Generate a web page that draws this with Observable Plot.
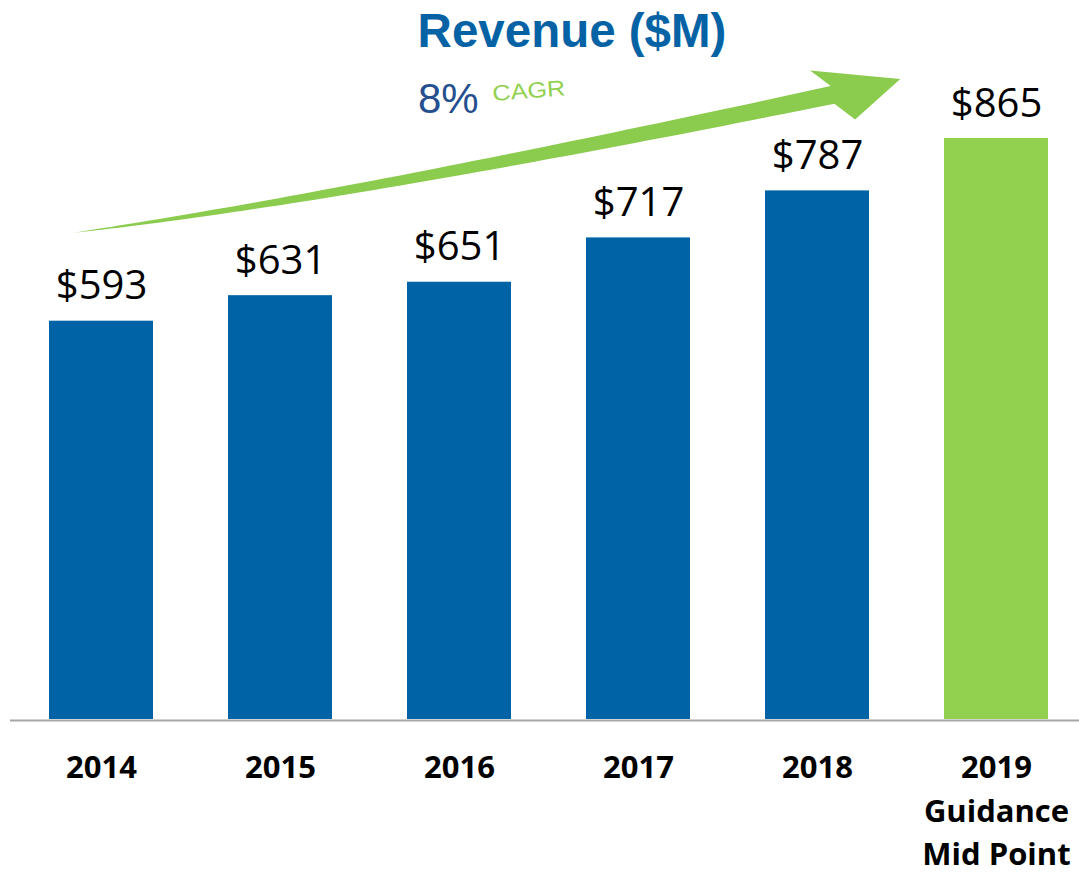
<!DOCTYPE html>
<html><head><meta charset="utf-8">
<script src="https://cdn.jsdelivr.net/npm/d3@7"></script>
<script src="https://cdn.jsdelivr.net/npm/@observablehq/plot@0.6"></script>
<style>
body{margin:0;background:#fff}
#chart{position:relative;width:1079px;height:874px;overflow:hidden}
</style>
</head><body><div id="chart"></div>
<script>
// ---- data ----
const years = ["2014", "2015", "2016", "2017", "2018", "2019"];
const revenue = [593, 631, 651, 717, 787, 865];
const kinds = ["actual", "actual", "actual", "actual", "actual", "guidance"];
const valueLabels = ["$593", "$631", "$651", "$717", "$787", "$865"];
const tickLabels = ["2014", "2015", "2016", "2017", "2018", "2019\nGuidance\nMid Point"];
const titleText = "Revenue ($M)";
const cagrValue = "8%";
const cagrText = "CAGR";
// arrow anchors (category, fraction of band offset, value on revenue axis)
const arrowTail = {year: "2014", offset: 0.24, value: 724};
const arrowTip = {year: "2019", offset: -0.42, value: 953};

const data = years.map((year, i) => ({year, revenue: revenue[i], kind: kinds[i], label: valueLabels[i]}));
const tickMap = new Map(years.map((y, i) => [y, tickLabels[i]]));

const chart = Plot.plot({
  width: 1079,
  height: 874,
  marginTop: 138,
  marginBottom: 155,
  marginLeft: 10,
  marginRight: 0,
  style: {fontFamily: "'Open Sans', sans-serif", background: "#fff", color: "#000", overflow: "visible"},
  x: {domain: years, paddingInner: 0.42, paddingOuter: 0.19, align: 0.56, label: null},
  y: {domain: [0, 865], axis: null},
  color: {domain: ["actual", "guidance"], range: ["#0063A6", "#92D050"]},
  marks: [
    Plot.ruleY([0], {stroke: "#A6A6A6", strokeWidth: 2, dy: 1}),
    Plot.barY(data, {x: "year", y: "revenue", fill: "kind"}),
    Plot.text(data, {x: "year", y: "revenue", text: "label", dy: -22, lineAnchor: "bottom", fontSize: 40, fill: "#000"}),
    Plot.axisX({tickSize: 0, tickPadding: 28, tickFormat: d => tickMap.get(d), fontSize: 31, fontWeight: "bold", lineHeight: 1.4, label: null, fill: "#000"})
  ]
});
document.getElementById("chart").appendChild(chart);

// ---- arrow and headings drawn with the chart's scales ----
const xs = chart.scale("x"), ys = chart.scale("y");
const bw = xs.bandwidth;
const T = [xs.apply(arrowTail.year) + arrowTail.offset * bw, ys.apply(arrowTail.value)];
const H = [xs.apply(arrowTip.year) + arrowTip.offset * bw, ys.apply(arrowTip.value)];
const D = [H[0] - T[0], H[1] - T[1]];
const P1 = [T[0] + 0.326 * D[0], T[1] + 0.227 * D[1]];
const B = [T[0] + 0.918 * D[0], T[1] + 0.896 * D[1]];
const q = t => [(1-t)*(1-t)*T[0] + 2*t*(1-t)*P1[0] + t*t*B[0], (1-t)*(1-t)*T[1] + 2*t*(1-t)*P1[1] + t*t*B[1]];
const dq = t => [2*(1-t)*(P1[0]-T[0]) + 2*t*(B[0]-P1[0]), 2*(1-t)*(P1[1]-T[1]) + 2*t*(B[1]-P1[1])];
const upper = [], lower = [];
for (let k = 0; k <= 60; k++) {
  const t = k / 60;
  const p = q(t), d = dq(t);
  const len = Math.hypot(d[0], d[1]);
  const n = [-d[1] / len, d[0] / len];
  const hw = 9 * Math.pow(t, 0.85);
  upper.push([p[0] - n[0]*hw, p[1] - n[1]*hw]);
  lower.push([p[0] + n[0]*hw, p[1] + n[1]*hw]);
}
const headTop = [B[0] - 22.5, B[1] - 24.5];
const headBot = [B[0] + 22.5, B[1] + 24.5];
const pts = [...upper, headTop, H, headBot, ...lower.reverse()];
const svg = d3.select(chart);
svg.append("path")
  .attr("d", "M" + pts.map(p => p[0].toFixed(1) + "," + p[1].toFixed(1)).join("L") + "Z")
  .attr("fill", "#8BCC4F");

svg.append("text").text(titleText)
  .attr("x", 572).attr("y", 47)
  .attr("text-anchor", "middle")
  .attr("font-family", "'Liberation Sans', Arial, sans-serif")
  .attr("font-weight", "bold").attr("font-size", 47.5).attr("fill", "#0563A5");
svg.append("text").text(cagrValue)
  .attr("x", 418).attr("y", 113)
  .attr("text-anchor", "start")
  .attr("font-family", "'Liberation Sans', Arial, sans-serif")
  .attr("font-size", 42).attr("fill", "#25508F");
svg.append("text").text(cagrText)
  .attr("transform", "translate(493,101) rotate(-4.5) scale(1.15,1)")
  .attr("text-anchor", "start")
  .attr("font-family", "'Liberation Sans', Arial, sans-serif")
  .attr("font-size", 22).attr("fill", "#92D050");
</script>
</body></html>
